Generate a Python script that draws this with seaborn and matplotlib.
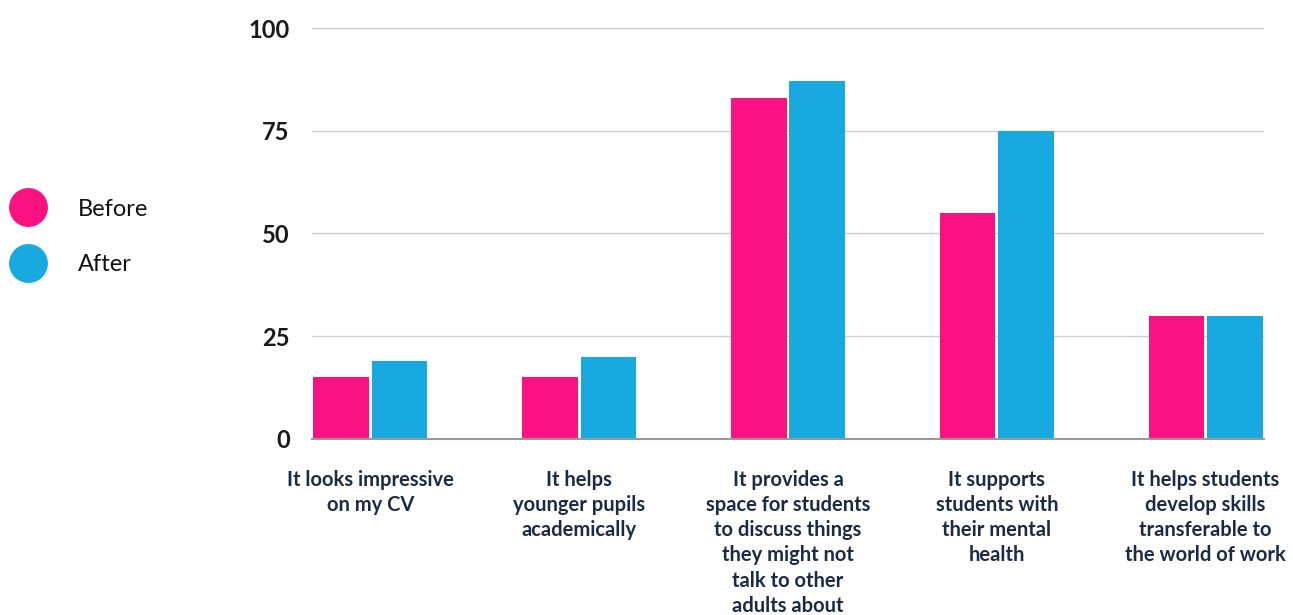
import matplotlib
matplotlib.use("Agg")
import matplotlib.pyplot as plt
from matplotlib.lines import Line2D
import seaborn as sns
import pandas as pd

categories = [
    "It looks impressive\non my CV",
    "It helps\nyounger pupils\nacademically",
    "It provides a\nspace for students\nto discuss things\nthey might not\ntalk to other\nadults about",
    "It supports\nstudents with\ntheir mental\nhealth",
    "It helps students\ndevelop skills\ntransferable to\nthe world of work",
]
series_names = ["Before", "After"]
before = [15, 15, 83, 55, 30]
after = [19, 20, 87, 75, 30]
y_ticks = [0, 25, 50, 75, 100]

colors = {"Before": "#FB1282", "After": "#19A9E1"}

df = pd.DataFrame({
    "category": categories * 2,
    "series": ["Before"] * len(categories) + ["After"] * len(categories),
    "value": before + after,
})

sns.set_theme(style="white")
plt.rcParams["font.family"] = ["Lato", "DejaVu Sans"]

fig = plt.figure(figsize=(12.93, 6.15), dpi=100)
ax = fig.add_axes([312 / 1293, 1 - 439 / 615, (1264 - 312) / 1293, (439 - 28) / 615])

sns.barplot(data=df, x="category", y="value", hue="series", order=categories,
            hue_order=series_names, palette=colors, width=0.56, gap=0.05,
            ax=ax, legend=False, saturation=1, linewidth=0)

ax.set_xlim(-0.28, 4.28)
ax.set_ylim(0, 100)
ax.set_yticks(y_ticks)
ax.yaxis.grid(True, color="#cccccc", linewidth=1)
ax.set_axisbelow(True)
for s in ["left", "right", "top"]:
    ax.spines[s].set_visible(False)
ax.spines["bottom"].set_color("#999999")
ax.spines["bottom"].set_linewidth(1.5)
ax.set_xlabel("")
ax.set_ylabel("")
ax.tick_params(axis="y", length=0, pad=16, labelsize=17, labelcolor="#1a1a1a")
ax.tick_params(axis="x", length=0, pad=22, labelsize=14.5, labelcolor="#1c2b45")
for t in ax.get_yticklabels():
    t.set_fontweight("bold")
for t in ax.get_xticklabels():
    t.set_fontweight("bold")
    t.set_linespacing(1.33)

handles = [Line2D([0], [0], marker="o", linestyle="", markersize=28,
                  markerfacecolor=colors[n], markeredgewidth=0) for n in series_names]
fig.legend(handles, series_names, loc="center left", bbox_to_anchor=(0.0, 0.615),
           frameon=False, fontsize=17, labelspacing=1.45, handlelength=1.4,
           handletextpad=1.4, borderaxespad=0.0, borderpad=0.5, labelcolor="#111111")

fig.savefig("out.png", dpi=100)
